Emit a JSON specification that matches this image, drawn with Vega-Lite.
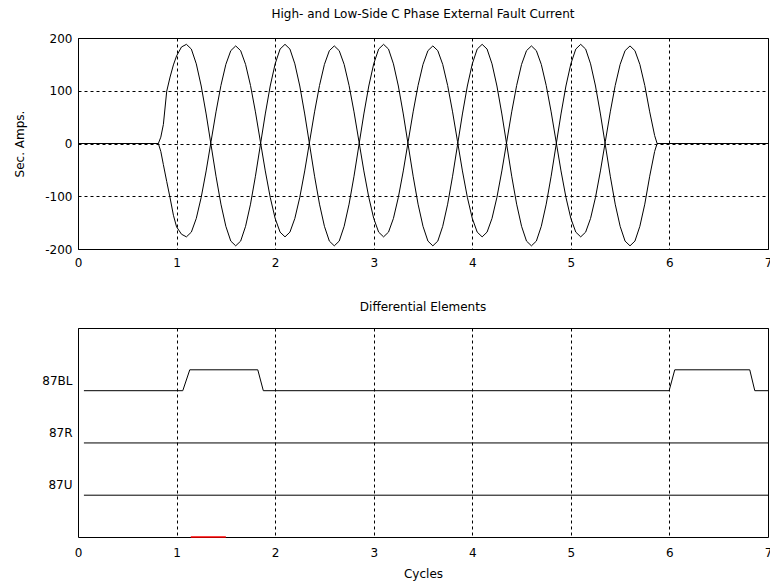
{
  "$schema": "https://vega.github.io/schema/vega-lite/v6.json",
  "padding": {"left": 13, "top": 7, "right": -2, "bottom": 2},
  "bounds": "flush",
  "spacing": 79,
  "background": "#ffffff",
  "datasets": {
    "wave": [
      {"x": 0, "A": 0, "B": 0},
      {"x": 0.815, "A": 0, "B": 0},
      {"x": 0.84, "A": 12, "B": -15},
      {"x": 0.866, "A": 36, "B": -40},
      {"x": 0.9, "A": 99, "B": -72},
      {"x": 0.934, "A": 126, "B": -103},
      {"x": 0.968, "A": 149, "B": -136},
      {"x": 1.0, "A": 166, "B": -158},
      {"x": 1.05, "A": 183, "B": -172},
      {"x": 1.1, "A": 188, "B": -177},
      {"x": 1.15, "A": 179, "B": -168},
      {"x": 1.2, "A": 151, "B": -142},
      {"x": 1.25, "A": 109, "B": -102},
      {"x": 1.3, "A": 56, "B": -52},
      {"x": 1.35, "A": -3, "B": 4},
      {"x": 1.4, "A": -62, "B": 60},
      {"x": 1.45, "A": -115, "B": 110},
      {"x": 1.5, "A": -157, "B": 150},
      {"x": 1.55, "A": -185, "B": 176},
      {"x": 1.6, "A": -194, "B": 185},
      {"x": 1.65, "A": -185, "B": 176},
      {"x": 1.7, "A": -157, "B": 150},
      {"x": 1.75, "A": -115, "B": 110},
      {"x": 1.8, "A": -62, "B": 60},
      {"x": 1.85, "A": -3, "B": 4},
      {"x": 1.9, "A": 56, "B": -52},
      {"x": 1.95, "A": 109, "B": -102},
      {"x": 2.0, "A": 151, "B": -142},
      {"x": 2.05, "A": 179, "B": -168},
      {"x": 2.1, "A": 188, "B": -177},
      {"x": 2.15, "A": 179, "B": -168},
      {"x": 2.2, "A": 151, "B": -142},
      {"x": 2.25, "A": 109, "B": -102},
      {"x": 2.3, "A": 56, "B": -52},
      {"x": 2.35, "A": -3, "B": 4},
      {"x": 2.4, "A": -62, "B": 60},
      {"x": 2.45, "A": -115, "B": 110},
      {"x": 2.5, "A": -157, "B": 150},
      {"x": 2.55, "A": -185, "B": 176},
      {"x": 2.6, "A": -194, "B": 185},
      {"x": 2.65, "A": -185, "B": 176},
      {"x": 2.7, "A": -157, "B": 150},
      {"x": 2.75, "A": -115, "B": 110},
      {"x": 2.8, "A": -62, "B": 60},
      {"x": 2.85, "A": -3, "B": 4},
      {"x": 2.9, "A": 56, "B": -52},
      {"x": 2.95, "A": 109, "B": -102},
      {"x": 3.0, "A": 151, "B": -142},
      {"x": 3.05, "A": 179, "B": -168},
      {"x": 3.1, "A": 188, "B": -177},
      {"x": 3.15, "A": 179, "B": -168},
      {"x": 3.2, "A": 151, "B": -142},
      {"x": 3.25, "A": 109, "B": -102},
      {"x": 3.3, "A": 56, "B": -52},
      {"x": 3.35, "A": -3, "B": 4},
      {"x": 3.4, "A": -62, "B": 60},
      {"x": 3.45, "A": -115, "B": 110},
      {"x": 3.5, "A": -157, "B": 150},
      {"x": 3.55, "A": -185, "B": 176},
      {"x": 3.6, "A": -194, "B": 185},
      {"x": 3.65, "A": -185, "B": 176},
      {"x": 3.7, "A": -157, "B": 150},
      {"x": 3.75, "A": -115, "B": 110},
      {"x": 3.8, "A": -62, "B": 60},
      {"x": 3.85, "A": -3, "B": 4},
      {"x": 3.9, "A": 56, "B": -52},
      {"x": 3.95, "A": 109, "B": -102},
      {"x": 4.0, "A": 151, "B": -142},
      {"x": 4.05, "A": 179, "B": -168},
      {"x": 4.1, "A": 188, "B": -177},
      {"x": 4.15, "A": 179, "B": -168},
      {"x": 4.2, "A": 151, "B": -142},
      {"x": 4.25, "A": 109, "B": -102},
      {"x": 4.3, "A": 56, "B": -52},
      {"x": 4.35, "A": -3, "B": 4},
      {"x": 4.4, "A": -62, "B": 60},
      {"x": 4.45, "A": -115, "B": 110},
      {"x": 4.5, "A": -157, "B": 150},
      {"x": 4.55, "A": -185, "B": 176},
      {"x": 4.6, "A": -194, "B": 185},
      {"x": 4.65, "A": -185, "B": 176},
      {"x": 4.7, "A": -157, "B": 150},
      {"x": 4.75, "A": -115, "B": 110},
      {"x": 4.8, "A": -62, "B": 60},
      {"x": 4.85, "A": -3, "B": 4},
      {"x": 4.9, "A": 56, "B": -52},
      {"x": 4.95, "A": 109, "B": -102},
      {"x": 5.0, "A": 151, "B": -142},
      {"x": 5.05, "A": 179, "B": -168},
      {"x": 5.1, "A": 188, "B": -177},
      {"x": 5.15, "A": 179, "B": -168},
      {"x": 5.2, "A": 151, "B": -142},
      {"x": 5.25, "A": 109, "B": -102},
      {"x": 5.3, "A": 56, "B": -52},
      {"x": 5.35, "A": -3, "B": 4},
      {"x": 5.4, "A": -62, "B": 60},
      {"x": 5.45, "A": -115, "B": 110},
      {"x": 5.5, "A": -157, "B": 150},
      {"x": 5.55, "A": -185, "B": 176},
      {"x": 5.6, "A": -194, "B": 185},
      {"x": 5.65, "A": -185, "B": 176},
      {"x": 5.7, "A": -157, "B": 150},
      {"x": 5.75, "A": -115, "B": 110},
      {"x": 5.8, "A": -62, "B": 60},
      {"x": 5.85, "A": -15, "B": 15},
      {"x": 5.875, "A": 0, "B": 0},
      {"x": 7.0, "A": 0, "B": 0}
    ],
    "dig": [
      {"s": "87BL", "x": 0.06, "y": 2.8},
      {"s": "87BL", "x": 1.063, "y": 2.8},
      {"s": "87BL", "x": 1.134, "y": 3.2},
      {"s": "87BL", "x": 1.824, "y": 3.2},
      {"s": "87BL", "x": 1.88, "y": 2.8},
      {"s": "87BL", "x": 5.997, "y": 2.8},
      {"s": "87BL", "x": 6.054, "y": 3.2},
      {"s": "87BL", "x": 6.815, "y": 3.2},
      {"s": "87BL", "x": 6.866, "y": 2.8},
      {"s": "87BL", "x": 7.0, "y": 2.8},
      {"s": "87R", "x": 0.06, "y": 1.8},
      {"s": "87R", "x": 7.0, "y": 1.8},
      {"s": "87U", "x": 0.06, "y": 0.8},
      {"s": "87U", "x": 7.0, "y": 0.8}
    ]
  },
  "vconcat": [
    {
      "width": 690,
      "height": 211,
      "title": {"text": "High- and Low-Side C Phase External Fault Current", "offset": 11},
      "data": {"name": "wave"},
      "transform": [{"fold": ["A", "B"], "as": ["s", "y"]}],
      "mark": {"type": "line", "color": "#000000", "strokeWidth": 1},
      "encoding": {
        "x": {"field": "x", "type": "quantitative", "scale": {"domain": [0, 7], "nice": false},
              "axis": {"values": [0, 1, 2, 3, 4, 5, 6, 7], "title": null, "labelFlush": false, "labelOverlap": false,
                       "labelExpr": "'' + datum.value"}},
        "y": {"field": "y", "type": "quantitative", "scale": {"domain": [-200, 200], "nice": false},
              "axis": {"values": [-200, -100, 0, 100, 200], "title": "Sec. Amps.", "titlePadding": 18, "labelPadding": 6,
                       "labelExpr": "'' + datum.value"}},
        "detail": {"field": "s"}
      }
    },
    {
      "width": 690,
      "height": 209,
      "title": {"text": "Differential Elements", "offset": 14},
      "layer": [
        {
          "data": {"name": "dig"},
          "mark": {"type": "line", "color": "#000000", "strokeWidth": 1},
          "encoding": {
            "x": {"field": "x", "type": "quantitative", "scale": {"domain": [0, 7], "nice": false},
                  "axis": {"values": [0, 1, 2, 3, 4, 5, 6, 7], "title": "Cycles", "labelFlush": false, "labelOverlap": false,
                           "labelPadding": 10, "titlePadding": 10, "labelExpr": "'' + datum.value"}},
            "y": {"field": "y", "type": "quantitative", "scale": {"domain": [0, 4], "nice": false},
                  "axis": {"values": [1, 2, 3], "grid": false, "title": null, "labelPadding": 6,
                           "labelExpr": "datum.value == 3 ? '87BL' : (datum.value == 2 ? '87R' : '87U')"}},
            "detail": {"field": "s"}
          }
        },
        {
          "data": {"values": [{"x": 1.144, "x2": 1.5, "y": 0}]},
          "mark": {"type": "rule", "color": "#ff0000", "strokeWidth": 1.5},
          "encoding": {
            "x": {"field": "x", "type": "quantitative"},
            "x2": {"field": "x2"},
            "y": {"field": "y", "type": "quantitative"}
          }
        }
      ]
    }
  ],
  "config": {
    "view": {"stroke": "#000000", "strokeWidth": 1},
    "axis": {
      "domain": false, "ticks": false, "grid": true,
      "gridColor": "#000000", "gridDash": [3, 3], "gridOpacity": 1, "gridWidth": 1,
      "labelColor": "#000000", "labelFont": "DejaVu Sans", "labelFontSize": 12, "labelPadding": 8,
      "titleFont": "DejaVu Sans", "titleFontSize": 12, "titleFontWeight": "normal", "titleColor": "#000000"
    },
    "title": {"font": "DejaVu Sans", "fontSize": 12, "fontWeight": "normal", "color": "#000000"}
  }
}
